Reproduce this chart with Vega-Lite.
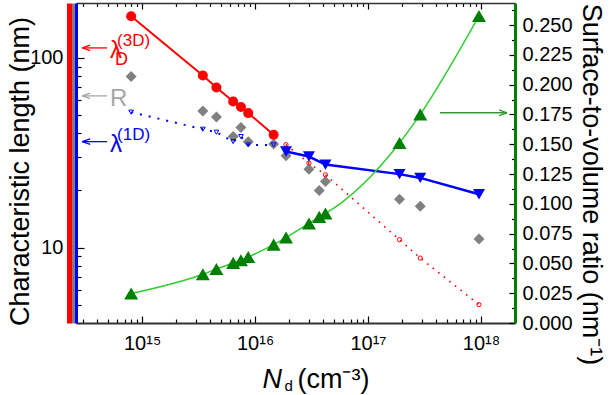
{
  "$schema": "https://vega.github.io/schema/vega-lite/v6.json",
  "width": 439,
  "height": 320,
  "autosize": "none",
  "padding": {"left": 76, "top": 3, "right": 97, "bottom": 72},
  "config": {
    "view": {"stroke": null},
    "font": "Liberation Sans",
    "axis": {"grid": false, "labelColor": "#000", "titleColor": "#000", "titleFontWeight": "normal", "tickColor": "#000", "labelFont": "Liberation Sans", "titleFont": "Liberation Sans"}
  },
  "datasets": {
    "s": [
      {"Nd": 8.0e14, "lamD": 166, "R": 79.8, "lam1Dd": 51.8, "sv": 0.0247},
      {"Nd": 3.45e15, "lamD": 80.8, "R": 52.6, "lam1Dd": 42.1, "sv": 0.0409},
      {"Nd": 4.55e15, "lamD": 69.8, "R": 48.9, "lam1Dd": 40.6, "sv": 0.0453},
      {"Nd": 6.4e15, "lamD": 58.9, "R": 38.5, "lam1Dd": 36.2, "sv": 0.0504},
      {"Nd": 7.5e15, "lamD": 55.1, "R": 43.0, "lam1Dd": 38.5, "sv": 0.0527},
      {"Nd": 8.7e15, "lamD": 51.2, "R": 36.2, "lam1Dd": 34.8, "sv": 0.0554},
      {"Nd": 1.46e16, "lamD": 39.4, "R": 35.2, "lam1Dd": 34.8, "sv": 0.0658},
      {"Nd": 1.88e16, "lamDd": 34.9, "R": 30.5, "lam1D": 32.1, "sv": 0.0717},
      {"Nd": 3.0e16, "lamDd": 27.9, "R": 25.9, "lam1D": 30.2, "sv": 0.0835},
      {"Nd": 3.7e16, "R": 20.0, "sv": 0.0890},
      {"Nd": 4.2e16, "lamDd": 24.2, "R": 22.3, "lam1D": 27.4, "sv": 0.0919},
      {"Nd": 1.9e17, "lamDd": 11.0, "R": 18.0, "lam1D": 24.4, "sv": 0.151},
      {"Nd": 2.9e17, "lamDd": 8.8, "R": 16.5, "lam1D": 23.3, "sv": 0.175},
      {"Nd": 9.6e17, "lamDd": 5.0, "R": 11.1, "lam1D": 19.1, "sv": 0.2576}
    ],
    "annot": [
      {"key": "lD", "x0": 2.95e14, "x1": 4.9e14, "y": 113, "main": "λ", "sub": "D", "sup": "(3D)"},
      {"key": "R", "x0": 2.95e14, "x1": 4.9e14, "y": 63.1, "main": "R", "sub": "", "sup": ""},
      {"key": "l1D", "x0": 2.95e14, "x1": 4.9e14, "y": 36.2, "main": "λ", "sub": "", "sup": "(1D)"}
    ],
    "garrow": [
      {"x0": 4.33e17, "x1": 1.7e18, "y": 0.1764}
    ]
  },
  "resolve": {"scale": {"y": "independent"}, "axis": {"x": "independent", "y": "independent"}},
  "layer": [
    {
      "data": {"name": "s"},
      "transform": [{"filter": "isValid(datum.R)"}],
      "mark": {"type": "point", "shape": "diamond", "filled": true, "color": "#808080", "size": 121, "opacity": 1},
      "encoding": {
        "x": {"field": "Nd", "type": "quantitative", "scale": {"type": "log", "domain": [2.6e14, 2.0e18], "nice": false},
          "axis": {"orient": "bottom", "values": [3e14,4e14,5e14,6e14,7e14,8e14,9e14,1e15,2e15,3e15,4e15,5e15,6e15,7e15,8e15,9e15,1e16,2e16,3e16,4e16,5e16,6e16,7e16,8e16,9e16,1e17,2e17,3e17,4e17,5e17,6e17,7e17,8e17,9e17,1e18],
            "labelExpr": "datum.value == 1e15 ? '10¹⁵' : datum.value == 1e16 ? '10¹⁶' : datum.value == 1e17 ? '10¹⁷' : datum.value == 1e18 ? '10¹⁸' : ''",
            "tickSize": {"condition": {"test": "datum.value == 1e15 || datum.value == 1e16 || datum.value == 1e17 || datum.value == 1e18", "value": -7}, "value": -4},
            "tickWidth": 1.2, "domainColor": "#333", "domainWidth": 2, "labelFontSize": 20, "labelFont": "Liberation Sans Narrow, Liberation Sans", "labelPadding": 17, "labelFlush": false,
            "title": "N", "titleFontStyle": "italic", "titleFontSize": 27, "titleAlign": "left", "titleBaseline": "alphabetic", "titleX": 186, "titleY": 64, "titleAngle": 0}},
        "y": {"field": "R", "type": "quantitative", "scale": {"type": "log", "domain": [4, 195], "nice": false},
          "axis": {"orient": "left", "offset": 3, "domainColor": "#808080", "domainWidth": 3, "ticks": false, "labels": false, "title": null}}
      }
    },
    {
      "data": {"name": "s"},
      "transform": [{"filter": "isValid(datum.lamDd)"}],
      "mark": {"type": "line", "color": "#ff0000", "strokeWidth": 1.6, "strokeDash": [1.6, 5.5]},
      "encoding": {
        "x": {"field": "Nd", "type": "quantitative", "scale": {"type": "log", "domain": [2.6e14, 2.0e18], "nice": false},
          "axis": {"orient": "bottom", "domain": false, "ticks": false, "labels": false, "title": "d", "titleFontSize": 15, "titleAlign": "left", "titleBaseline": "alphabetic", "titleX": 208, "titleY": 67, "titleAngle": 0}},
        "y": {"field": "lamDd", "type": "quantitative", "scale": {"type": "log", "domain": [4, 195], "nice": false},
          "axis": {"orient": "left", "offset": 7, "domainColor": "#ff0000", "domainWidth": 5, "ticks": false, "labels": false, "title": null}}
      }
    },
    {
      "data": {"name": "s"},
      "transform": [{"filter": "isValid(datum.lamDd)"}],
      "mark": {"type": "point", "shape": "circle", "filled": false, "color": "#ff0000", "size": 18, "strokeWidth": 1, "opacity": 1},
      "encoding": {
        "x": {"field": "Nd", "type": "quantitative", "scale": {"type": "log", "domain": [2.6e14, 2.0e18], "nice": false}, "axis": null},
        "y": {"field": "lamDd", "type": "quantitative", "scale": {"type": "log", "domain": [4, 195], "nice": false}, "axis": null}
      }
    },
    {
      "data": {"name": "s"},
      "transform": [{"filter": "isValid(datum.lam1Dd)"}],
      "mark": {"type": "line", "color": "#0000ff", "strokeWidth": 2, "strokeDash": [2, 7]},
      "encoding": {
        "x": {"field": "Nd", "type": "quantitative", "scale": {"type": "log", "domain": [2.6e14, 2.0e18], "nice": false},
          "axis": {"orient": "bottom", "domain": false, "ticks": false, "labels": false, "title": "(cm⁻³)", "titleFontSize": 27, "titleAlign": "left", "titleBaseline": "alphabetic", "titleX": 221, "titleY": 64, "titleAngle": 0}},
        "y": {"field": "lam1Dd", "type": "quantitative", "scale": {"type": "log", "domain": [4, 195], "nice": false}, "axis": null}
      }
    },
    {
      "data": {"name": "s"},
      "transform": [{"filter": "isValid(datum.lam1Dd)"}],
      "mark": {"type": "point", "shape": "triangle-down", "filled": false, "color": "#0000ff", "size": 22, "strokeWidth": 1, "opacity": 1},
      "encoding": {
        "x": {"field": "Nd", "type": "quantitative", "scale": {"type": "log", "domain": [2.6e14, 2.0e18], "nice": false}, "axis": null},
        "y": {"field": "lam1Dd", "type": "quantitative", "scale": {"type": "log", "domain": [4, 195], "nice": false}, "axis": null}
      }
    },
    {
      "data": {"name": "s"},
      "transform": [{"filter": "isValid(datum.lamD)"}],
      "mark": {"type": "line", "color": "#ff0000", "strokeWidth": 2},
      "encoding": {
        "x": {"field": "Nd", "type": "quantitative", "scale": {"type": "log", "domain": [2.6e14, 2.0e18], "nice": false}, "axis": null},
        "y": {"field": "lamD", "type": "quantitative", "scale": {"type": "log", "domain": [4, 195], "nice": false}, "axis": null}
      }
    },
    {
      "data": {"name": "s"},
      "transform": [{"filter": "isValid(datum.lamD)"}],
      "mark": {"type": "point", "shape": "circle", "filled": true, "color": "#ff0000", "size": 100, "opacity": 1},
      "encoding": {
        "x": {"field": "Nd", "type": "quantitative", "scale": {"type": "log", "domain": [2.6e14, 2.0e18], "nice": false}, "axis": null},
        "y": {"field": "lamD", "type": "quantitative", "scale": {"type": "log", "domain": [4, 195], "nice": false}, "axis": null}
      }
    },
    {
      "data": {"name": "s"},
      "transform": [{"filter": "isValid(datum.lam1D)"}],
      "mark": {"type": "line", "color": "#0000ff", "strokeWidth": 2.5},
      "encoding": {
        "x": {"field": "Nd", "type": "quantitative", "scale": {"type": "log", "domain": [2.6e14, 2.0e18], "nice": false}, "axis": null},
        "y": {"field": "lam1D", "type": "quantitative", "scale": {"type": "log", "domain": [4, 195], "nice": false},
          "axis": {"orient": "left", "values": [5,6,7,8,9,10,20,30,40,50,60,70,80,90,100],
            "labelExpr": "datum.value == 10 || datum.value == 100 ? datum.label : ''",
            "tickSize": {"condition": {"test": "datum.value == 10 || datum.value == 100", "value": -8}, "value": -5},
            "tickWidth": 1.2, "domainColor": "#0000ff", "domainWidth": 3, "labelFontSize": 20, "labelFont": "Liberation Sans Narrow, Liberation Sans", "labelPadding": 21,
            "title": "Characteristic length (nm)", "titleFontSize": 27, "titleAngle": -90, "titleAlign": "center", "titleBaseline": "middle", "titleX": -56, "titleY": 168}}
      }
    },
    {
      "data": {"name": "s"},
      "transform": [{"filter": "isValid(datum.lam1D)"}],
      "mark": {"type": "point", "shape": "triangle-down", "filled": true, "color": "#0000ff", "size": 144, "opacity": 1},
      "encoding": {
        "x": {"field": "Nd", "type": "quantitative", "scale": {"type": "log", "domain": [2.6e14, 2.0e18], "nice": false}, "axis": null},
        "y": {"field": "lam1D", "type": "quantitative", "scale": {"type": "log", "domain": [4, 195], "nice": false}, "axis": null}
      }
    },
    {
      "data": {"name": "s"},
      "mark": {"type": "line", "color": "#33cc33", "strokeWidth": 1.5, "interpolate": "monotone"},
      "encoding": {
        "x": {"field": "Nd", "type": "quantitative", "scale": {"type": "log", "domain": [2.6e14, 2.0e18], "nice": false},
          "axis": {"orient": "top", "values": [3e14,4e14,5e14,6e14,7e14,8e14,9e14,1e15,2e15,3e15,4e15,5e15,6e15,7e15,8e15,9e15,1e16,2e16,3e16,4e16,5e16,6e16,7e16,8e16,9e16,1e17,2e17,3e17,4e17,5e17,6e17,7e17,8e17,9e17,1e18],
            "labels": false, "title": null,
            "tickSize": {"condition": {"test": "datum.value == 1e15 || datum.value == 1e16 || datum.value == 1e17 || datum.value == 1e18", "value": -6}, "value": -3.5},
            "tickWidth": 1.2, "domainColor": "#333", "domainWidth": 1.5}},
        "y": {"field": "sv", "type": "quantitative", "scale": {"type": "linear", "domain": [0, 0.2685], "nice": false, "zero": false},
          "axis": {"orient": "right", "values": [0,0.0125,0.025,0.0375,0.05,0.0625,0.075,0.0875,0.1,0.1125,0.125,0.1375,0.15,0.1625,0.175,0.1875,0.2,0.2125,0.225,0.2375,0.25,0.2625],
            "labelExpr": "abs(datum.value*40 - round(datum.value*40)) < 1e-6 ? format(datum.value, '.3f') : ''",
            "tickSize": {"condition": {"test": "abs(datum.value*40 - round(datum.value*40)) < 1e-6", "value": -6}, "value": -3.5},
            "tickWidth": 1.2, "domainColor": "#008000", "domainWidth": 3, "labelFontSize": 20, "labelFont": "Liberation Sans Narrow, Liberation Sans", "labelPadding": 13,
            "title": "Surface-to-volume ratio (nm⁻¹)", "titleFontSize": 27, "titleAngle": 90, "titleAlign": "center", "titleBaseline": "middle", "titleX": 75, "titleY": 181}}
      }
    },
    {
      "data": {"name": "s"},
      "mark": {"type": "point", "shape": "triangle-up", "filled": true, "color": "#008000", "size": 196, "opacity": 1},
      "encoding": {
        "x": {"field": "Nd", "type": "quantitative", "scale": {"type": "log", "domain": [2.6e14, 2.0e18], "nice": false}, "axis": null},
        "y": {"field": "sv", "type": "quantitative", "scale": {"type": "linear", "domain": [0, 0.2685], "nice": false, "zero": false}, "axis": null}
      }
    },
    {
      "data": {"name": "annot"},
      "mark": {"type": "rule", "strokeWidth": 1.3},
      "encoding": {
        "x": {"field": "x0", "type": "quantitative", "scale": {"type": "log", "domain": [2.6e14, 2.0e18], "nice": false}, "axis": null},
        "x2": {"field": "x1"},
        "y": {"field": "y", "type": "quantitative", "scale": {"type": "log", "domain": [4, 195], "nice": false}, "axis": null},
        "color": {"field": "key", "type": "nominal", "scale": {"domain": ["lD", "R", "l1D"], "range": ["#ff0000", "#a6a6a6", "#0000ff"]}, "legend": null}
      }
    },
    {
      "data": {"name": "annot"},
      "mark": {"type": "point", "shape": "M0,0L2,-0.7M0,0L2,0.7", "filled": false, "size": 64, "strokeWidth": 1.3, "opacity": 1},
      "encoding": {
        "x": {"field": "x0", "type": "quantitative", "scale": {"type": "log", "domain": [2.6e14, 2.0e18], "nice": false}, "axis": null},
        "y": {"field": "y", "type": "quantitative", "scale": {"type": "log", "domain": [4, 195], "nice": false}, "axis": null},
        "color": {"field": "key", "type": "nominal", "scale": {"domain": ["lD", "R", "l1D"], "range": ["#ff0000", "#a6a6a6", "#0000ff"]}, "legend": null}
      }
    },
    {
      "data": {"name": "annot"},
      "mark": {"type": "text", "align": "left", "baseline": "middle", "dx": 3, "dy": 3, "fontSize": 24, "font": "Liberation Sans"},
      "encoding": {
        "x": {"field": "x1", "type": "quantitative", "scale": {"type": "log", "domain": [2.6e14, 2.0e18], "nice": false}, "axis": null},
        "y": {"field": "y", "type": "quantitative", "scale": {"type": "log", "domain": [4, 195], "nice": false}, "axis": null},
        "text": {"field": "main"},
        "fontStyle": {"condition": {"test": "datum.key == 'R'", "value": "italic"}, "value": "normal"},
        "color": {"field": "key", "type": "nominal", "scale": {"domain": ["lD", "R", "l1D"], "range": ["#ff0000", "#a6a6a6", "#0000ff"]}, "legend": null}
      }
    },
    {
      "data": {"name": "annot"},
      "mark": {"type": "text", "align": "left", "baseline": "middle", "dx": 8, "dy": 12, "fontSize": 18, "font": "Liberation Sans"},
      "encoding": {
        "x": {"field": "x1", "type": "quantitative", "scale": {"type": "log", "domain": [2.6e14, 2.0e18], "nice": false}, "axis": null},
        "y": {"field": "y", "type": "quantitative", "scale": {"type": "log", "domain": [4, 195], "nice": false}, "axis": null},
        "text": {"field": "sub"},
        "color": {"field": "key", "type": "nominal", "scale": {"domain": ["lD", "R", "l1D"], "range": ["#ff0000", "#a6a6a6", "#0000ff"]}, "legend": null}
      }
    },
    {
      "data": {"name": "annot"},
      "mark": {"type": "text", "align": "left", "baseline": "middle", "dx": 10, "dy": -7, "fontSize": 17, "font": "Liberation Sans"},
      "encoding": {
        "x": {"field": "x1", "type": "quantitative", "scale": {"type": "log", "domain": [2.6e14, 2.0e18], "nice": false}, "axis": null},
        "y": {"field": "y", "type": "quantitative", "scale": {"type": "log", "domain": [4, 195], "nice": false}, "axis": null},
        "text": {"field": "sup"},
        "color": {"field": "key", "type": "nominal", "scale": {"domain": ["lD", "R", "l1D"], "range": ["#ff0000", "#a6a6a6", "#0000ff"]}, "legend": null}
      }
    },
    {
      "data": {"name": "garrow"},
      "mark": {"type": "rule", "strokeWidth": 1.3, "color": "#339933"},
      "encoding": {
        "x": {"field": "x0", "type": "quantitative", "scale": {"type": "log", "domain": [2.6e14, 2.0e18], "nice": false}, "axis": null},
        "x2": {"field": "x1"},
        "y": {"field": "y", "type": "quantitative", "scale": {"type": "linear", "domain": [0, 0.2685], "nice": false, "zero": false}, "axis": null}
      }
    },
    {
      "data": {"name": "garrow"},
      "mark": {"type": "point", "shape": "M0,0L-2,-0.7M0,0L-2,0.7", "filled": false, "size": 64, "strokeWidth": 1.3, "color": "#339933", "opacity": 1},
      "encoding": {
        "x": {"field": "x1", "type": "quantitative", "scale": {"type": "log", "domain": [2.6e14, 2.0e18], "nice": false}, "axis": null},
        "y": {"field": "y", "type": "quantitative", "scale": {"type": "linear", "domain": [0, 0.2685], "nice": false, "zero": false}, "axis": null}
      }
    }
  ]
}
